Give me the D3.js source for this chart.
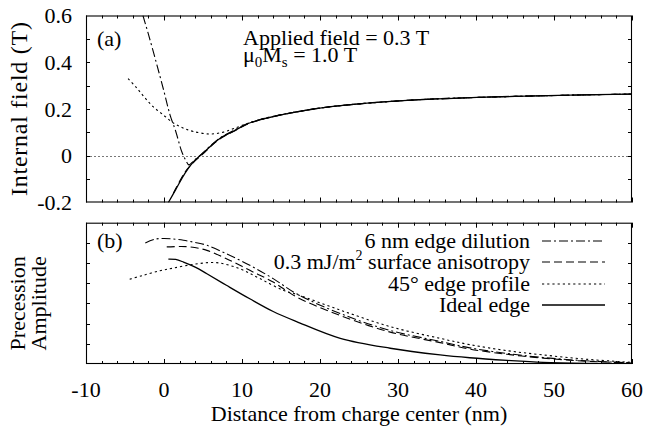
<!DOCTYPE html>
<html><head><meta charset="utf-8">
<script src="https://cdn.jsdelivr.net/npm/d3@7"></script>
</head><body style="margin:0">
<svg id="c" width="647" height="426" style="display:block;background:#fff"></svg>
<script>
// ---- Data ----
const xTicksMajor = [-10,0,10,20,30,40,50,60];
const yTicksTop = [-0.2,0,0.2,0.4,0.6];
const legendLabels = ["6 nm edge dilution","surface anisotropy","45° edge profile","Ideal edge"];

// Panel (a): internal field (T) vs distance (nm)
const fieldIdeal = [[0.56,-0.2],[1.5,-0.145],[2.7,-0.074],[3.8,-0.025],[5,0.011],[6,0.042],[7.2,0.075],[8.9,0.105],[10.8,0.138],[12.3,0.154],[15,0.175],[17.4,0.19],[20,0.204],[25,0.222],[32.8,0.24],[38.8,0.248],[45,0.254],[52,0.259],[60,0.264]];
const fieldDilution = [[-2.7,0.6],[-2,0.52],[-1,0.4],[0,0.275],[0.77,0.175],[1.5,0.105],[2.27,0.018],[2.8,-0.02],[3.2,-0.039],[3.8,-0.022],[5,0.013],[6,0.044],[7.2,0.077],[8.9,0.107],[10.8,0.139],[12.3,0.155],[15,0.176],[17.4,0.19],[20,0.204],[25,0.222],[32.8,0.24],[38.8,0.248],[45,0.254],[52,0.259],[60,0.264]];
const fieldAniso = [[1.2,-0.16],[2.7,-0.07],[3.8,-0.028],[5,0.008],[6,0.04],[7.2,0.073],[8.9,0.104],[10.8,0.137],[12.3,0.153],[15,0.175],[17.4,0.19],[20,0.204],[25,0.222],[32.8,0.24],[38.8,0.248],[45,0.254],[52,0.259],[60,0.264]];
const fieldProfile = [[-4.6,0.33],[-3.5,0.29],[-2.5,0.25],[-1.4,0.21],[-0.1,0.175],[1.2,0.14],[2.5,0.118],[3.75,0.104],[5.9,0.093],[7.6,0.101],[9,0.117],[10.8,0.139],[12.3,0.154],[15,0.175],[17.4,0.19],[20,0.204],[25,0.222],[32.8,0.24],[38.8,0.248],[45,0.254],[52,0.259],[60,0.264]];

// Panel (b): precession amplitude (arb.) vs distance (nm)
const ampDilution = [[-2.4,6.0],[-1.2,6.18],[-0.1,6.22],[1,6.2],[2.5,6.13],[4,6.02],[5.5,5.88],[8,5.46],[11,4.89],[14,4.23],[17,3.48],[22.6,2.5],[29,1.66],[35.4,1.12],[39.2,0.8],[44,0.52],[48.6,0.32],[54,0.16],[60,0.06]];
const ampAniso = [[0.35,5.8],[2,5.82],[3.3,5.8],[5.5,5.63],[8,5.22],[11,4.64],[14,4.06],[17,3.32],[22.6,2.4],[29,1.58],[35.4,1.06],[39.2,0.74],[44,0.48],[48.6,0.29],[54,0.14],[60,0.05]];
const ampProfile = [[-4.4,4.2],[-2.7,4.39],[-0.5,4.62],[1.2,4.75],[4,4.95],[6.75,5.02],[9.7,4.72],[12.3,4.23],[15.3,3.65],[17,3.45],[22.6,2.67],[29,1.85],[35.4,1.27],[39.2,0.96],[44,0.66],[48.6,0.45],[54,0.24],[60,0.08]];
const ampIdeal = [[0.56,5.2],[1.5,5.18],[2.5,5.05],[4,4.8],[5.5,4.47],[8,3.9],[11,3.23],[14,2.6],[17,2.1],[22.6,1.27],[29,0.78],[35.4,0.45],[39.2,0.31],[44,0.18],[48.6,0.08],[54,0.03],[60,0.01]];

// ---- Layout ----
const svg = d3.select("#c");
const L = 86, R = 632;
const topA = 15.5, botA = 202.5, topB = 222.7, botB = 364;
const FS = 22;
const FF = '"Liberation Serif", Tinos, "Times New Roman", Times';

const x = d3.scaleLinear().domain([-10,60]).range([L,R]);
const yA = d3.scaleLinear().domain([-0.2,0.6]).range([botA,topA]);
const yB = d3.scaleLinear().domain([0,7]).range([botB,topB]);

const styles = {
  dilution: {dash:"9,3,2,3", w:1.1},
  aniso: {dash:"8,4", w:1.1},
  profile: {dash:"2.2,3", w:1.1},
  ideal: {dash:null, w:1.3}
};

function txt(sel){ return sel.append("text").style("font-family",FF).attr("font-size",FS); }

function clipRect(id, y0, y1){
  svg.append("clipPath").attr("id",id).append("rect").attr("x",L).attr("y",y0).attr("width",R-L).attr("height",y1-y0);
}
clipRect("ca", topA, botA);
clipRect("cb", topB, botB);

function drawLine(data, ys, st, clip){
  const line = d3.line().x(d=>x(d[0])).y(d=>ys(d[1])).curve(d3.curveCatmullRom.alpha(0.5));
  const p = svg.append("path").attr("d", line(data)).attr("fill","none").attr("stroke","#000")
    .attr("stroke-width", st.w).attr("clip-path",`url(#${clip})`);
  if (st.dash) p.attr("stroke-dasharray", st.dash);
}

function panelFrame(ys, y0, y1, yMinorTicks){
  const g = svg.append("g").attr("stroke","#000").attr("stroke-width",1);
  d3.range(-10,61,2).forEach(v=>{
    const len = (v%10===0)?5:3;
    const px = Math.round(x(v))+0.5;
    g.append("line").attr("x1",px).attr("x2",px).attr("y1",y1).attr("y2",y1-len);
    g.append("line").attr("x1",px).attr("x2",px).attr("y1",y0).attr("y2",y0+len);
  });
  yMinorTicks.forEach(v=>{
    const py = Math.round(ys(v))+0.5;
    g.append("line").attr("x1",L).attr("x2",L+4).attr("y1",py).attr("y2",py);
    g.append("line").attr("x1",R).attr("x2",R-4).attr("y1",py).attr("y2",py);
  });
  svg.append("rect").attr("x",L+0.5).attr("y",y0+0.5).attr("width",R-L-1).attr("height",y1-y0-1)
    .attr("fill","none").attr("stroke","#000").attr("stroke-width",1.1);
}

// Panel (a)
svg.append("line").attr("x1",L).attr("x2",R).attr("y1",Math.round(yA(0))+0.5).attr("y2",Math.round(yA(0))+0.5)
  .attr("stroke","#555").attr("stroke-width",0.8).attr("stroke-dasharray","2,2");
drawLine(fieldProfile, yA, styles.profile, "ca");
drawLine(fieldAniso, yA, styles.aniso, "ca");
drawLine(fieldDilution, yA, styles.dilution, "ca");
drawLine(fieldIdeal, yA, styles.ideal, "ca");
panelFrame(yA, topA, botA, d3.range(-0.1,0.6,0.1).map(v=>+v.toFixed(2)));

yTicksTop.forEach(v=>{
  txt(svg).attr("x",72).attr("y",yA(v)).attr("dy","0.35em").attr("text-anchor","end")
    .text(v===0?"0":String(v));
});
txt(svg).attr("x",97).attr("y",46).text("(a)");
txt(svg).attr("x",243).attr("y",45).text("Applied field = 0.3 T");
const t2 = txt(svg).attr("x",243).attr("y",62);
t2.append("tspan").text("μ");
t2.append("tspan").attr("font-size",15).attr("dy",5).text("0");
t2.append("tspan").attr("dy",-5).text("M");
t2.append("tspan").attr("font-size",15).attr("dy",5).text("s");
t2.append("tspan").attr("dy",-5).text(" = 1.0 T");
txt(svg).attr("transform",`translate(27,${(topA+botA)/2}) rotate(-90)`).attr("text-anchor","middle")
  .attr("font-size",24).attr("textLength",174).attr("lengthAdjust","spacing")
  .text("Internal field (T)");

// Panel (b)
drawLine(ampProfile, yB, styles.profile, "cb");
drawLine(ampAniso, yB, styles.aniso, "cb");
drawLine(ampDilution, yB, styles.dilution, "cb");
drawLine(ampIdeal, yB, styles.ideal, "cb");
panelFrame(yB, topB, botB, [1,2,3,4,5,6]);
txt(svg).attr("x",97).attr("y",248).text("(b)");

// Legend
const legY = [241, 262, 284, 305];
const legKeys = ["dilution","aniso","profile","ideal"];
legKeys.forEach((k,i)=>{
  const t = txt(svg).attr("x",530).attr("y",legY[i]+7).attr("text-anchor","end");
  if (k==="aniso"){
    t.append("tspan").text("0.3 mJ/m");
    t.append("tspan").attr("font-size",14).attr("dy",-9).text("2");
    t.append("tspan").attr("dy",9).text(" " + legendLabels[i]);
  } else t.text(legendLabels[i]);
  const p = svg.append("line").attr("x1",542).attr("x2",605).attr("y1",legY[i]).attr("y2",legY[i])
    .attr("stroke","#000").attr("stroke-width",styles[k].w);
  if (styles[k].dash) p.attr("stroke-dasharray",styles[k].dash);
});

// Axis labels
xTicksMajor.forEach(v=>{
  txt(svg).attr("x",x(v)).attr("y",397).attr("text-anchor","middle").text(String(v));
});
txt(svg).attr("x",(L+R)/2).attr("y",421).attr("text-anchor","middle")
  .text("Distance from charge center (nm)");
const yc = (topB+botB)/2 + 10;
txt(svg).attr("transform",`translate(25,${yc}) rotate(-90)`).attr("text-anchor","middle").text("Precession");
txt(svg).attr("transform",`translate(46,${yc}) rotate(-90)`).attr("text-anchor","middle").text("Amplitude");
</script></body></html>
